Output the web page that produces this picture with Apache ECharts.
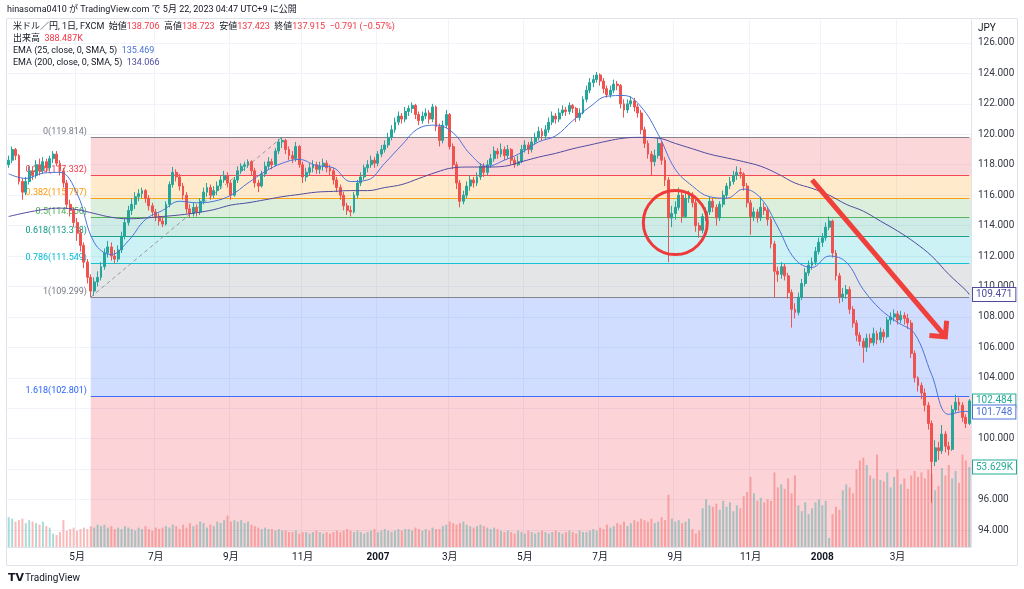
<!DOCTYPE html>
<html>
<head>
<meta charset="utf-8">
<title>米ドル／円 1日 FXCM</title>
<script src="https://cdn.jsdelivr.net/npm/echarts@6/dist/echarts.min.js"></script>
<style>
  html, body { margin: 0; padding: 0; background: #fff; }
  #chart { width: 1024px; height: 589px; }
</style>
</head>
<body>
<div id="chart"></div>
<script>
// USD/JPY daily (FXCM), drawn as one candle per two trading days, Mar 2006 - May 2008
const firstDay = '2006-03-06';
const daysPerBar = 2;

// [open, close, low, high]
const candles = [
  [118.0,118.3,117.8,118.6],[118.3,119.0,118.1,119.2],[119.0,118.6,118.3,119.1],[118.6,116.9,116.7,118.7],[116.9,116.2,115.7,117.1],
  [116.2,116.9,116.0,117.2],[116.9,117.6,116.7,117.9],[117.6,117.3,117.0,117.9],[117.3,118.0,117.1,118.3],[118.0,117.6,117.3,118.4],
  [117.6,118.2,117.4,118.5],[118.2,117.8,117.5,118.4],[117.8,118.4,117.6,118.6],[118.4,118.7,118.1,118.9],[118.7,118.1,117.9,118.9],
  [118.1,117.6,117.3,118.3],[117.6,116.8,116.5,117.8],[116.8,115.4,115.1,117.0],[115.4,115.0,114.6,115.7],[115.0,114.2,113.9,115.2],
  [114.2,113.5,113.0,114.5],[113.5,112.7,112.3,113.8],[112.7,111.6,111.2,112.9],[111.6,110.6,110.2,111.8],[110.6,109.7,109.3,110.8],
  [109.7,110.3,109.4,110.6],[110.3,110.6,110.0,111.0],[110.6,111.3,110.4,111.6],[111.3,112.2,111.1,112.5],[112.2,112.6,111.9,113.0],
  [112.6,112.0,111.7,112.9],[112.0,111.8,111.5,112.4],[111.8,112.4,111.6,112.7],[112.4,113.3,112.2,113.6],[113.3,114.2,113.1,114.5],
  [114.2,115.0,114.0,115.3],[115.0,115.4,114.7,115.8],[115.4,115.9,115.1,116.2],[115.9,116.1,115.6,116.4],[116.1,116.3,115.8,116.5],
  [116.3,115.8,115.5,116.4],[115.8,115.3,115.0,116.0],[115.3,114.9,114.6,115.5],[114.9,114.6,114.3,115.1],[114.6,114.3,114.0,114.8],
  [114.3,114.1,113.9,114.6],[114.1,115.4,114.0,115.6],[115.4,116.7,115.2,116.9],[116.7,117.5,116.5,117.85],[117.5,117.2,116.9,117.7],
  [117.2,116.6,116.3,117.4],[116.6,116.0,115.7,116.8],[116.0,115.1,114.8,116.2],[115.1,114.8,114.5,115.4],[114.8,115.2,114.6,115.5],
  [115.2,114.9,114.6,115.4],[114.9,115.6,114.7,115.8],[115.6,116.2,115.4,116.5],[116.2,116.5,115.9,116.8],[116.5,116.0,115.7,116.7],
  [116.0,116.3,115.8,116.6],[116.3,116.6,116.0,116.9],[116.6,117.0,116.4,117.3],[117.0,117.3,116.8,117.6],[117.3,116.8,116.5,117.5],
  [116.8,116.0,115.7,117.0],[116.0,117.0,115.9,117.2],[117.0,117.6,116.8,117.9],[117.6,117.9,117.4,118.1],[117.9,118.0,117.6,118.2],
  [118.0,118.2,117.8,118.35],[118.2,117.6,117.3,118.3],[117.6,116.8,116.5,117.8],[116.8,116.6,116.2,117.0],[116.6,117.4,116.5,117.6],
  [117.4,117.9,117.2,118.2],[117.9,118.2,117.7,118.5],[118.2,118.0,117.7,118.4],[118.0,118.9,117.9,119.1],[118.9,119.5,118.7,119.7],
  [119.5,119.6,119.1,119.81],[119.6,119.0,118.7,119.7],[119.0,118.6,118.3,119.2],[118.6,118.4,118.1,118.9],[118.4,119.2,118.2,119.5],
  [119.2,118.0,117.8,119.3],[118.0,117.2,116.8,118.2],[117.2,117.5,116.9,117.8],[117.5,117.8,117.3,118.1],[117.8,118.0,117.5,118.3],
  [118.0,117.7,117.4,118.2],[117.7,117.9,117.4,118.2],[117.9,118.1,117.6,118.4],[118.1,117.8,117.5,118.3],[117.8,117.6,117.3,118.0],
  [117.6,117.0,116.7,117.8],[117.0,116.5,116.2,117.2],[116.5,116.0,115.7,116.7],[116.0,115.3,115.0,116.2],[115.3,115.0,114.7,115.5],
  [115.0,114.9,114.6,115.3],[114.9,116.0,114.8,116.2],[116.0,116.8,115.8,117.0],[116.8,117.2,116.6,117.5],[117.2,117.8,117.0,118.0],
  [117.8,118.0,117.5,118.3],[118.0,118.3,117.8,118.6],[118.3,118.1,117.8,118.5],[118.1,118.7,117.9,118.9],[118.7,119.0,118.5,119.3],
  [119.0,119.3,118.8,119.6],[119.3,119.8,119.1,120.1],[119.8,120.3,119.6,120.6],[120.3,120.8,120.1,121.1],[120.8,121.2,120.6,121.5],
  [121.2,121.0,120.7,121.4],[121.0,121.5,120.8,121.8],[121.5,121.7,121.2,121.9],[121.7,121.9,121.4,122.1],[121.9,121.3,121.0,122.0],
  [121.3,120.9,120.6,121.5],[120.9,121.2,120.7,121.5],[121.2,121.4,121.0,121.7],[121.4,121.0,120.7,121.6],[121.0,121.8,120.8,122.0],
  [121.8,120.5,120.2,121.9],[120.5,119.6,119.2,120.7],[119.6,120.6,119.4,120.9],[120.6,121.3,120.4,121.6],[121.3,119.2,119.0,121.4],
  [119.2,118.0,117.7,119.4],[118.0,116.8,116.4,118.2],[116.8,115.6,115.2,117.0],[115.6,116.0,115.4,116.3],[116.0,116.6,115.8,116.9],
  [116.6,117.0,116.3,117.3],[117.0,116.8,116.5,117.2],[116.8,117.2,116.6,117.5],[117.2,117.9,117.0,118.1],[117.9,117.5,117.2,118.1],
  [117.5,118.0,117.3,118.3],[118.0,118.4,117.8,118.7],[118.4,118.9,118.2,119.2],[118.9,118.7,118.4,119.1],[118.7,119.0,118.5,119.4],
  [119.0,118.6,118.3,119.2],[118.6,119.0,118.4,119.3],[119.0,118.3,118.0,119.1],[118.3,118.0,117.8,118.5],[118.0,118.2,117.9,118.6],
  [118.2,119.0,118.1,119.3],[119.0,119.3,118.8,119.6],[119.3,119.0,118.7,119.5],[119.0,119.5,118.8,119.8],[119.5,119.8,119.3,120.1],
  [119.8,120.2,119.6,120.5],[120.2,119.9,119.6,120.4],[119.9,120.3,119.7,120.6],[120.3,120.8,120.1,121.1],[120.8,121.2,120.6,121.5],
  [121.2,121.0,120.7,121.4],[121.0,121.4,120.8,121.7],[121.4,121.6,121.2,121.9],[121.6,121.5,121.2,121.8],[121.5,121.9,121.3,122.1],
  [121.9,121.7,121.4,122.0],[121.7,121.1,120.8,121.8],[121.1,121.4,120.9,121.7],[121.4,122.3,121.3,122.5],[122.3,122.9,122.1,123.2],
  [122.9,123.4,122.7,123.7],[123.4,123.6,123.1,123.9],[123.6,123.9,123.4,124.1],[123.9,123.5,123.2,124.0],[123.5,123.0,122.7,123.7],
  [123.0,122.6,122.4,123.2],[122.6,122.9,122.4,123.2],[122.9,123.3,122.7,123.6],[123.3,123.2,122.9,123.5],[123.2,122.0,121.7,123.3],
  [122.0,121.6,121.1,122.3],[121.6,122.0,121.4,122.3],[122.0,122.2,121.8,122.5],[122.2,121.8,121.5,122.4],[121.8,121.4,121.1,122.0],
  [121.4,120.3,120.0,121.6],[120.3,119.4,119.1,120.5],[119.4,118.7,118.4,119.6],[118.7,118.2,117.3,118.9],[118.2,118.6,117.9,119.0],
  [118.6,119.4,118.4,119.76],[119.4,118.3,118.0,119.5],[118.3,117.0,116.6,118.5],[117.0,114.5,111.6,117.2],[114.5,114.8,113.9,115.3],
  [114.8,115.2,114.4,115.6],[115.2,116.0,115.0,116.5],[116.0,114.6,114.2,116.2],[114.6,115.8,114.5,116.1],[115.8,116.0,115.5,116.3],
  [116.0,115.5,115.2,116.2],[115.5,114.0,113.6,115.7],[114.0,113.7,113.2,114.2],[113.7,114.6,113.5,114.8],[114.6,114.9,114.3,115.2],
  [114.9,115.6,114.7,115.9],[115.6,115.2,114.9,115.8],[115.2,114.5,114.0,115.4],[114.5,115.4,114.3,115.6],[115.4,116.0,115.2,116.3],
  [116.0,116.6,115.8,116.8],[116.6,116.9,116.4,117.2],[116.9,117.3,116.7,117.6],[117.3,117.5,117.0,117.9],[117.5,117.4,117.1,117.8],
  [117.4,116.6,116.3,117.5],[116.6,115.5,115.2,116.8],[115.5,114.6,113.4,115.7],[114.6,114.9,114.3,115.2],[114.9,114.5,114.2,115.1],
  [114.5,115.2,114.3,115.9],[115.2,115.0,114.7,115.5],[115.0,114.4,114.0,115.2],[114.4,112.8,112.5,114.6],[112.8,111.0,109.25,113.0],
  [111.0,110.8,110.3,111.3],[110.8,111.3,110.5,111.6],[111.3,110.7,110.4,111.5],[110.7,109.6,109.2,110.9],[109.6,108.5,107.3,109.8],
  [108.5,108.3,107.9,108.9],[108.3,109.3,108.1,109.6],[109.3,110.2,109.1,110.5],[110.2,110.9,110.0,111.2],[110.9,111.4,110.7,111.7],
  [111.4,111.6,111.1,111.9],[111.6,112.3,111.4,112.6],[112.3,112.9,112.1,113.2],[112.9,113.2,112.6,113.5],[113.2,113.9,113.0,114.2],
  [113.9,114.3,113.7,114.6],[114.3,112.2,111.9,114.4],[112.2,110.7,110.4,112.4],[110.7,109.3,108.9,110.9],[109.3,109.5,109.0,109.9],
  [109.5,109.8,109.2,110.1],[109.8,108.5,108.2,110.0],[108.5,107.6,107.3,108.7],[107.6,106.8,106.4,107.8],[106.8,106.4,106.1,107.0],
  [106.4,106.0,105.0,106.6],[106.0,106.6,105.7,106.9],[106.6,106.3,106.0,106.9],[106.3,106.9,106.1,107.3],[106.9,106.5,106.2,107.1],
  [106.5,107.0,106.3,107.3],[107.0,106.7,106.3,107.2],[106.7,107.8,106.6,108.0],[107.8,108.0,107.5,108.3],[108.0,108.2,107.7,108.5],
  [108.2,107.8,107.5,108.4],[107.8,108.1,107.6,108.4],[108.1,107.9,107.5,108.3],[107.9,107.6,107.2,108.2],[107.6,105.6,105.3,107.8],
  [105.6,104.0,103.7,105.8],[104.0,103.5,103.1,104.1],[103.5,103.0,102.6,103.7],[103.0,102.2,101.8,103.3],[102.2,101.0,100.6,102.4],
  [101.0,98.5,95.8,101.2],[98.5,99.4,98.2,99.9],[99.4,99.2,98.6,99.8],[99.2,100.3,99.0,100.9],[100.3,99.5,99.1,100.5],
  [99.5,99.3,98.9,99.8],[99.3,101.9,99.2,102.2],[101.9,102.4,101.7,102.9],[102.4,102.2,101.8,102.7],[102.2,101.4,101.1,102.4],
  [101.4,101.0,100.7,101.6],[101.0,102.484,100.9,102.6]
];

// volume, thousands
const volumes = [
  20,19,17,18,19,16,18,17,16,15,17,14,13,9,8,10,18,11,12,13,11,12,13,12,14,13,
  15,14,15,13,14,12,13,12,14,13,12,11,13,12,14,12,11,13,12,13,
  14,13,15,14,12,15,13,16,14,15,17,16,13,15,14,17,16,18,21,17,
  18,17,18,16,17,15,14,13,12,13,12,12,11,12,11,
  11,10,10,11,9,10,10,9,10,11,10,9,10,9,10,11,10,11,12,11,
  10,11,10,9,10,11,12,10,11,12,11,10,11,12,11,12,12,11,13,12,11,12,11,13,12,
  12,14,15,17,16,15,16,17,15,14,13,14,15,14,13,12,13,12,11,10,
  11,10,9,11,10,9,11,10,9,10,11,10,9,10,11,10,9,10,11,10,9,11,10,10,11,
  12,11,13,12,15,13,14,16,15,17,14,16,18,17,19,
  18,17,19,16,17,20,18,35,19,17,18,16,17,19,12,9,11,
  26,32,28,27,29,25,31,27,30,24,28,26,34,37,47,36,31,33,30,32,31,
  50,40,42,39,46,36,48,28,24,30,22,26,30,32,28,31,6,22,27,25,
  38,42,40,36,52,58,60,55,48,46,62,45,44,50,40,47,52,42,46,39,
  48,51,47,50,46,52,49,38,41,53,48,55,46,51,43,62,58,53.629
];

// indicator readings, one every emaStep candles (last one on the final candle)
const emaStep = 5;
const ema25 = [
  117.4,117.1,117.45,117.5,116.1,112.9,112.1,113.0,114.4,115.0,
  115.6,115.5,115.6,116.0,116.8,117.55,118.1,118.35,117.95,117.8,
  116.9,117.0,118.1,119.3,120.4,120.6,120.1,118.7,117.9,118.3,
  118.8,119.5,119.9,120.9,121.8,122.5,122.55,121.8,120.0,117.7,
  116.6,115.9,115.8,116.4,115.8,113.9,111.8,111.25,112.0,111.6,
  109.8,108.5,107.65,106.9,104.2,101.6,101.8,101.748
];
const ema200 = [
  114.6,114.85,115.05,115.15,115.05,114.8,114.55,114.45,114.5,114.6,
  114.7,114.85,115.05,115.35,115.5,115.7,115.9,116.05,116.2,116.25,
  116.3,116.3,116.5,116.7,117.1,117.5,117.8,117.85,117.85,117.9,
  118.2,118.5,118.75,119.05,119.3,119.55,119.75,119.8,119.75,119.4,
  119.05,118.7,118.45,118.2,117.9,117.4,116.8,116.45,116.0,115.4,
  114.95,114.3,113.65,112.9,112.0,110.8,109.75,109.471
];

const priceTicks = [94, 96, 98, 100, 102, 104, 106, 108, 110, 112, 114, 116, 118, 120, 122, 124, 126];
const Y_MIN = 92.883;
const Y_MAX = 127.511;
const VOL_MAX = 107.3;

// Fibonacci retracement drawn from the May 2006 low to the Oct 2006 high
const fibRatios = ['0', '0.236', '0.382', '0.5', '0.618', '0.786', '1', '1.618'];
const fibValues = [119.814, 117.332, 115.797, 114.556, 113.318, 111.549, 109.299, 102.801];
const fibLowBar = 24;
const fibHighBar = 80;
const fibLine = ['#787b86', '#f23645', '#ff9800', '#4caf50', '#089981', '#00bcd4', '#787b86', '#2962ff'];
const fibFill = ['rgba(242,54,69,0.2)', 'rgba(255,152,0,0.2)', 'rgba(76,175,80,0.2)', 'rgba(8,153,129,0.2)',
                 'rgba(0,188,212,0.2)', 'rgba(120,123,134,0.2)', 'rgba(41,98,255,0.22)', 'rgba(242,54,69,0.22)'];

// hand drawings: circle [bar, price], arrow from / to [bar, price]
const circleAt = [195, 114.2];
const arrowFrom = [235, 117.0];
const arrowTo = [274, 106.7];

const FONT = "Roboto, 'Noto Sans CJK JP', sans-serif";
const UP = '#26a69a';
const DOWN = '#ef5350';
const EMA25_COLOR = '#4a72d8';
const EMA200_COLOR = '#4f4c9e';

// trading-day categories
const days = [];
{
  const d = new Date(firstDay + 'T00:00:00Z');
  let n = 0;
  while (days.length < candles.length) {
    const wd = d.getUTCDay();
    if (wd !== 0 && wd !== 6) {
      if (n % daysPerBar === 0) days.push(d.toISOString().slice(0, 10));
      n++;
    }
    d.setUTCDate(d.getUTCDate() + 1);
  }
}
const last = days.length - 1;

function isLabelBar(i) {
  if (i === 0) return false;
  const m = +days[i].slice(5, 7);
  return m !== +days[i - 1].slice(5, 7) && m % 2 === 1;
}
function monthLabel(value) {
  const m = +value.slice(5, 7);
  return m === 1 ? '{y|' + value.slice(0, 4) + '}' : m + '月';
}

const volData = volumes.map((v, i) => ({
  value: v,
  itemStyle: { color: candles[i][1] >= candles[i][0] ? 'rgba(38,166,154,0.4)' : 'rgba(239,83,80,0.4)' }
}));
const emaPoints = arr => arr.map((v, k) => [days[Math.min(k * emaStep, last)], v]);

const fibAreas = fibValues.map((v, k) => [
  { xAxis: days[fibLowBar], yAxis: v, itemStyle: { color: fibFill[k] } },
  { yAxis: k + 1 < fibValues.length ? fibValues[k + 1] : Y_MIN }
]);
const fibLines = fibValues.map((v, k) => [
  { xAxis: days[fibLowBar], yAxis: v, lineStyle: { color: fibLine[k], width: 1, type: 'solid', opacity: 0.9 } },
  { xAxis: days[last], yAxis: v }
]);
fibLines.push([
  { xAxis: days[fibLowBar], yAxis: fibValues[6], lineStyle: { color: '#9598a1', width: 1, type: [4, 3] } },
  { xAxis: days[fibHighBar], yAxis: fibValues[0] }
]);

const chart = echarts.init(document.getElementById('chart'));

chart.setOption({
  animation: false,
  textStyle: { fontFamily: FONT },
  grid: [
    { left: 7, right: 53, top: 20, bottom: 42 },
    { left: 7, right: 53, top: 387, bottom: 42 }
  ],
  xAxis: [
    {
      type: 'category', data: days, gridIndex: 0,
      axisLine: { lineStyle: { color: '#e0e3eb' } },
      axisTick: { show: false },
      axisLabel: {
        interval: isLabelBar, formatter: monthLabel, color: '#131722', fontSize: 10, margin: 5,
        rich: { y: { fontWeight: 'bold', fontSize: 10, color: '#131722' } }
      },
      splitLine: { show: true, interval: isLabelBar, lineStyle: { color: '#f0f3fa' } }
    },
    { type: 'category', data: days, gridIndex: 1, show: false }
  ],
  yAxis: [
    {
      type: 'value', position: 'right', min: Y_MIN, max: Y_MAX,
      axisLine: { show: true, lineStyle: { color: '#e0e3eb' } },
      axisTick: { show: false, customValues: priceTicks },
      axisLabel: { customValues: priceTicks, formatter: v => v.toFixed(3), color: '#363a45', fontSize: 10, margin: 7 },
      splitLine: { show: true, lineStyle: { color: '#f0f3fa' } }
    },
    { type: 'value', gridIndex: 1, min: 0, max: VOL_MAX, show: false }
  ],
  series: [
    {
      type: 'bar', name: '出来高', xAxisIndex: 1, yAxisIndex: 1, data: volData,
      barWidth: 2, z: 2, silent: true
    },
    {
      type: 'candlestick', name: '米ドル／円', xAxisIndex: 0, yAxisIndex: 0, data: candles,
      barWidth: '70%', z: 3, silent: true,
      itemStyle: { color: UP, color0: DOWN, borderColor: UP, borderColor0: DOWN, borderWidth: 1 },
      markArea: { silent: true, z: 1, label: { show: false }, data: fibAreas },
      markLine: { silent: true, z: 1, symbol: ['none', 'none'], label: { show: false }, data: fibLines }
    },
    {
      type: 'line', name: 'EMA 25', data: emaPoints(ema25), smooth: 0.4, showSymbol: false, z: 4,
      lineStyle: { color: EMA25_COLOR, width: 1 }, silent: true
    },
    {
      type: 'line', name: 'EMA 200', data: emaPoints(ema200), smooth: 0.4, showSymbol: false, z: 4,
      lineStyle: { color: EMA200_COLOR, width: 1 }, silent: true
    }
  ]
});

// overlay texts and drawings, positioned through the chart's own scales
const toPx = (bar, price) => chart.convertToPixel({ gridIndex: 0 }, [bar, price]);
const yPrice = v => chart.convertToPixel({ yAxisIndex: 0 }, v);
const yVol = v => chart.convertToPixel({ yAxisIndex: 1 }, v);

function text(x, y, str, style, z) {
  return {
    type: 'text', x, y, silent: true, z: z == null ? 50 : z,
    style: Object.assign({ text: str, fill: '#131722', fontSize: 10, fontFamily: FONT, verticalAlign: 'middle' }, style || {})
  };
}
function tag(value, y, color) {
  return text(973, y, value, {
    fill: color, backgroundColor: '#fff', borderColor: color, borderWidth: 1, padding: [2, 3, 1, 3]
  }, 60);
}
const rt = { fill: '#131722', fontSize: 9, fontFamily: FONT };
const rv = { fill: '#f23645', fontSize: 9, fontFamily: FONT };

const graphics = [
  { type: 'rect', silent: true, z: 0, shape: { x: 6.5, y: 18.5, width: 1011, height: 547 },
    style: { fill: 'none', stroke: '#e0e3eb', lineWidth: 1 } },
  text(7, 10, 'hinasoma0410 が TradingView.com で 5月 22, 2023 04:47 UTC+9 に公開', { fontSize: 9 }),
  text(13, 27, '{t|米ドル／円, 1日, FXCM  始値}{v|138.706}{t|  高値}{v|138.723}{t|  安値}{v|137.423}{t|  終値}{v|137.915}{v|  −0.791 (−0.57%)}',
    { rich: { t: rt, v: rv } }),
  text(13, 39, '{t|出来高  }{v|388.487K}', { rich: { t: rt, v: rv } }),
  text(13, 51, '{t|EMA (25, close, 0, SMA, 5)  }{v|135.469}', { rich: { t: rt, v: Object.assign({}, rv, { fill: EMA25_COLOR }) } }),
  text(13, 63, '{t|EMA (200, close, 0, SMA, 5)  }{v|134.066}', { rich: { t: rt, v: Object.assign({}, rv, { fill: EMA200_COLOR }) } }),
  text(978, 28, 'JPY', { fill: '#131722' }),
  text(8, 578, 'TV', { fontWeight: 'bold', fontSize: 11, fontFamily: 'DejaVu Sans', fill: '#131722' }),
  text(25, 578, 'TradingView', { fontSize: 10, fill: '#131722' })
];

fibValues.forEach((v, k) => {
  graphics.push(text(87, yPrice(v) - 1, fibRatios[k] + '(' + v.toFixed(3) + ')',
    { fill: fibLine[k], align: 'right', verticalAlign: 'bottom', fontSize: 9 }, 1));
});

graphics.push(tag(ema200[ema200.length - 1].toFixed(3), yPrice(ema200[ema200.length - 1]), EMA200_COLOR));
graphics.push(tag(candles[last][1].toFixed(3), yPrice(candles[last][1]), '#22ab94'));
graphics.push(tag(ema25[ema25.length - 1].toFixed(3), yPrice(ema25[ema25.length - 1]), EMA25_COLOR));
graphics.push(tag(volumes[last].toFixed(3) + 'K', yVol(volumes[last]), '#22ab94'));

// red circle around the September 2007 range
const c = toPx(circleAt[0], circleAt[1]);
graphics.push({ type: 'circle', silent: true, z: 100, shape: { cx: c[0], cy: c[1], r: 32 },
  style: { fill: 'none', stroke: '#ee3a3a', lineWidth: 3 } });

// red arrow
const a0 = toPx(arrowFrom[0], arrowFrom[1]);
const a1 = toPx(arrowTo[0], arrowTo[1]);
const ang = Math.atan2(a1[1] - a0[1], a1[0] - a0[0]);
const head = 16;
const arm = s => [a1[0] - head * Math.cos(ang + s * Math.PI / 4), a1[1] - head * Math.sin(ang + s * Math.PI / 4)];
graphics.push({ type: 'polyline', silent: true, z: 100, shape: { points: [a0, a1] },
  style: { fill: 'none', stroke: '#f0403c', lineWidth: 5 } });
graphics.push({ type: 'polyline', silent: true, z: 100, shape: { points: [arm(1), a1, arm(-1)] },
  style: { fill: 'none', stroke: '#f0403c', lineWidth: 5, lineJoin: 'miter' } });

chart.setOption({ graphic: graphics });
</script>
</body>
</html>
